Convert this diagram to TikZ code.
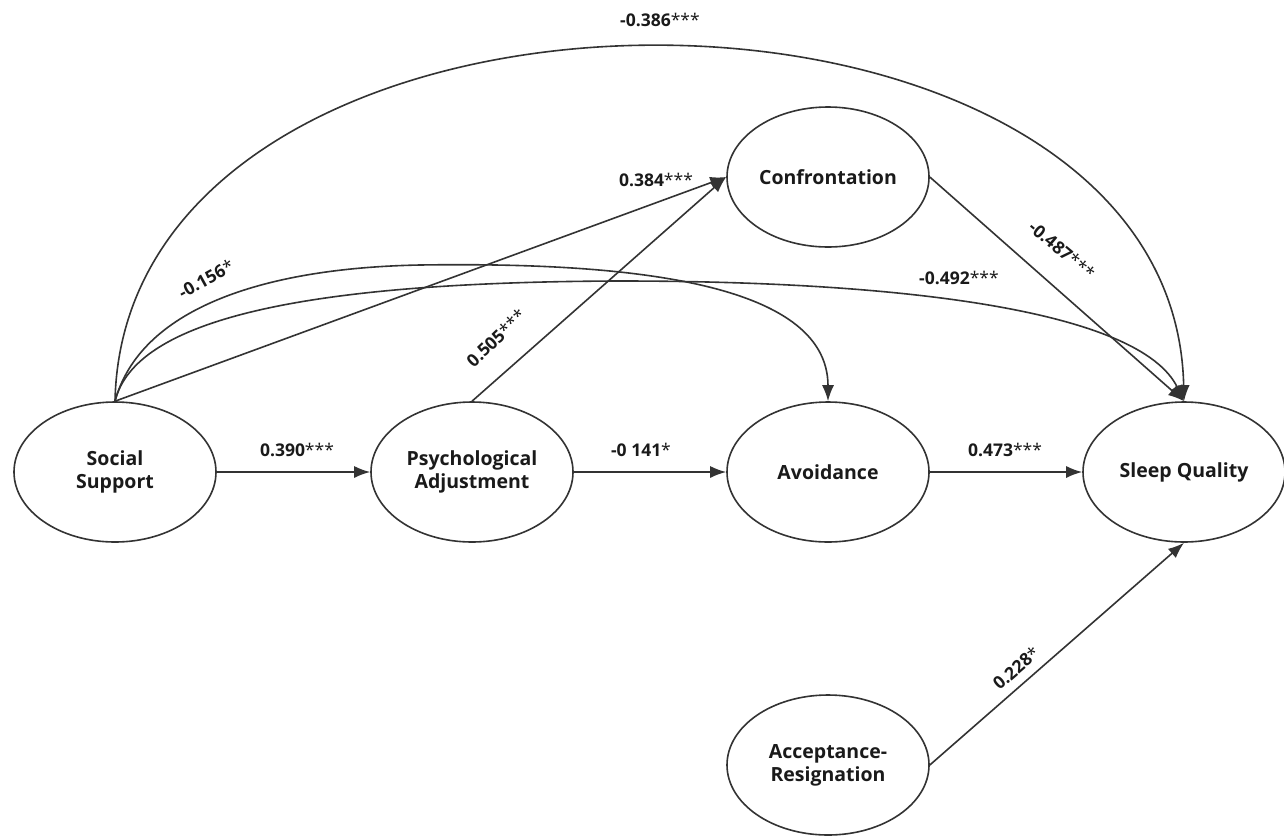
\documentclass[tikz,border=0pt]{standalone}
\usepackage{fontspec}
\setmainfont{Open Sans}
\usetikzlibrary{arrows.meta,shapes.geometric}
\definecolor{ln}{HTML}{333333}
\definecolor{tx}{HTML}{1A1A1A}
\tikzset{
  var/.style={ellipse,draw=ln,line width=1.6pt,fill=white,minimum width=202pt,minimum height=140pt,inner sep=0pt,align=center,font=\fontsize{19.5}{23}\selectfont\bfseries,text=tx},
  path/.style={draw=ln,line width=1.6pt,-{Latex[length=16pt,width=12pt]}},
  coef/.style={font=\fontsize{17.5}{20}\selectfont\bfseries,text=tx,inner sep=1pt}
}
\begin{document}
\begin{tikzpicture}[x=1pt,y=-1pt]
\useasboundingbox (0,0) rectangle (1284,836);
\fill[white] (0,0) rectangle (1284,836);
% nodes
\node[var] (SS) at (115,472) {Social\\Support};
\node[var] (PA) at (472,472) {Psychological\\Adjustment};
\node[var] (AV) at (828,472) {Avoidance};
\node[var] (SQ) at (1184,472) {Sleep Quality};
\node[var] (CF) at (828,177) {Confrontation};
\node[var] (AR) at (828,765) {Acceptance-\\Resignation};
% waypoints
\coordinate (mA) at (420,265);
\coordinate (mB) at (620,281);
% straight paths
\draw[path] (SS.east) -- (PA.west);
\draw[path] (PA.east) -- (AV.west);
\draw[path] (AV.east) -- (SQ.west);
\draw[path] (AR.east) -- (SQ.south);
\draw[path] (PA.north) -- (CF.west);
\draw[path] (SS.north) -- (CF.west);
\draw[path] (CF.east) -- (SQ.north);
% curved paths
\draw[path] (SS.north) .. controls (125,-71) and (1174,-71) .. (SQ.north);
\draw[path] (SS.north) .. controls (140,310) and (260,268) .. (mA) .. controls (620,262) and (828,280) .. (AV.north);
\draw[path] (SS.north) .. controls (135,320) and (300,282) .. (mB) .. controls (900,281) and (1140,310) .. (SQ.north);
% labels
\node[coef] (l1) at (297,450) {0.390{\mdseries***}};
\node[coef] (l2) at (641,450) {-0 141{\mdseries*}};
\node[coef] (l3) at (1005,450) {0.473{\mdseries***}};
\node[coef,rotate=41] (l4) at (1016,668) {0.228{\mdseries*}};
\node[coef,rotate=44] (l5) at (496,338) {0.505{\mdseries***}};
\node[coef] (l6) at (656,180) {0.384{\mdseries***}};
\node[coef,rotate=-40] (l7) at (1062,250) {-0.487{\mdseries***}};
\node[coef] (l8) at (959,278) {-0.492{\mdseries***}};
\node[coef,rotate=29] (l9) at (206,279) {-0.156{\mdseries*}};
\node[coef] (l10) at (660,20) {-0.386{\mdseries***}};
\end{tikzpicture}
\end{document}
